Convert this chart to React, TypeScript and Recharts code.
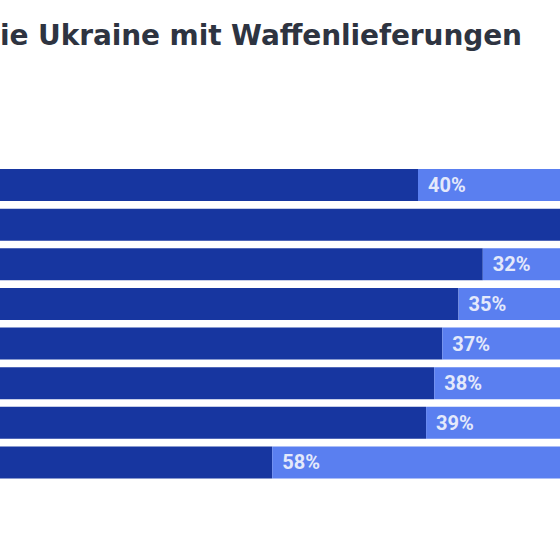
import { BarChart, Bar, XAxis, YAxis, LabelList } from 'recharts';

// rows from top to bottom (category names are outside the visible crop)
const rows = ['r1', 'r2', 'r3', 'r4', 'r5', 'r6', 'r7', 'r8'];
const darkShare = [60, 79, 68, 65, 63, 62, 61, 42];
const lightShare = [40, 21, 32, 35, 37, 38, 39, 58];
// label of row 2 lies outside the visible crop
const lightLabels = ['40%', '', '32%', '35%', '37%', '38%', '39%', '58%'];

const DARK = '#1736a0';
const LIGHT = '#5a7ff0';

const data = rows.map((name, i) => ({
  name,
  dark: darkShare[i],
  light: lightShare[i],
  label: lightLabels[i],
}));

export default function App() {
  return (
    <div
      style={{
        position: 'fixed',
        left: 0,
        top: 0,
        width: 560,
        height: 560,
        overflow: 'hidden',
        background: '#fff',
      }}
    >
      <svg width={560} height={60} style={{ position: 'absolute', left: 0, top: 0 }}>
        <text
          x={522}
          y={45}
          textAnchor="end"
          textLength={522}
          lengthAdjust="spacing"
          fill="#2e3441"
          fontFamily="'DejaVu Sans', sans-serif"
          fontWeight="bold"
          fontSize={28}
        >
          ie Ukraine mit Waffenlieferungen
        </text>
      </svg>
      <div style={{ position: 'absolute', left: -68, top: 165 }}>
        <BarChart
          width={810}
          height={317}
          data={data}
          layout="vertical"
          margin={{ top: 0, right: 0, bottom: 0, left: 0 }}
          barSize={32}
        >
          <XAxis type="number" domain={[0, 100]} hide />
          <YAxis type="category" dataKey="name" hide />
          <Bar dataKey="dark" stackId="a" fill={DARK} isAnimationActive={false} />
          <Bar dataKey="light" stackId="a" fill={LIGHT} isAnimationActive={false}>
            <LabelList
              dataKey="label"
              position="insideLeft"
              offset={10}
              fill="#e4e9fb"
              fontFamily="Roboto, sans-serif"
              fontWeight="bold"
              fontSize={20}
            />
          </Bar>
        </BarChart>
      </div>
    </div>
  );
}
